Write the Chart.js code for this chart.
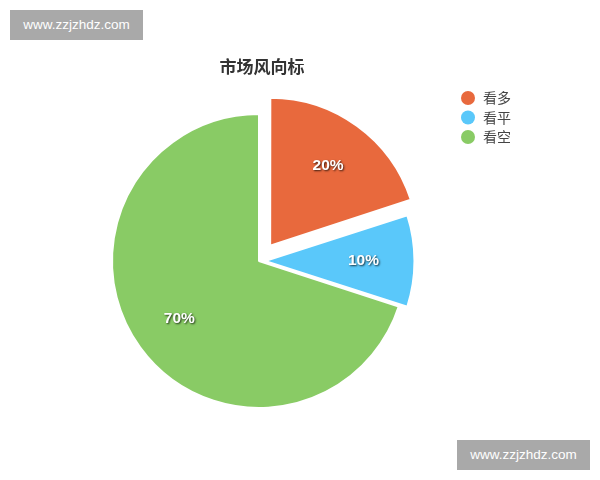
<!DOCTYPE html>
<html>
<head>
<meta charset="utf-8">
<script src="https://cdn.jsdelivr.net/npm/chart.js@4"></script>
<style>
  html, body { margin: 0; padding: 0; background: #fff; }
  #wrap { position: relative; width: 600px; height: 480px; }
  .mark {
    position: absolute; width: 133px; height: 30px;
    background: #a9a9a9; color: #fff; text-align: center;
    font: 13.5px "Liberation Sans", Arial, sans-serif;
    line-height: 30px;
  }
</style>
</head>
<body>
<div id="wrap">
  <canvas id="c" width="600" height="480"></canvas>
  <div class="mark" style="left:10px;top:10px">www.zzjzhdz.com</div>
  <div class="mark" style="left:457px;top:440px">www.zzjzhdz.com</div>
</div>
<script>
// 数据
const labels = ["看多", "看平", "看空"];
const values = [20, 10, 70];
const colors = ["#e8693d", "#5ac8fa", "#89cb65"];
const offsets = [19, 6, 0];   // 扇区外移像素
const title = "市场风向标";

// 标题、图例和百分比文字
const decor = {
  id: "decor",
  afterDatasetsDraw(chart) {
    const ctx = chart.ctx;
    const meta = chart.getDatasetMeta(0);
    const total = values.reduce((a, b) => a + b, 0);

    ctx.save();
    ctx.textAlign = "center";
    ctx.textBaseline = "middle";
    ctx.font = "bold 15.5px 'Liberation Sans', Arial, sans-serif";
    meta.data.forEach((arc, i) => {
      const mid = (arc.startAngle + arc.endAngle) / 2;
      const r = offsets[i] + arc.outerRadius * 0.67;
      const x = arc.x + Math.cos(mid) * r;
      const y = arc.y + Math.sin(mid) * r;
      ctx.shadowColor = "rgba(0,0,0,0.75)";
      ctx.shadowBlur = 2;
      ctx.shadowOffsetX = 1;
      ctx.shadowOffsetY = 1;
      ctx.fillStyle = "#fff";
      ctx.fillText(Math.round(values[i] / total * 100) + "%", x, y);
    });
    ctx.restore();

    ctx.save();
    ctx.fillStyle = "#333";
    ctx.textAlign = "center";
    ctx.textBaseline = "middle";
    ctx.font = "bold 17px 'Noto Sans CJK SC', sans-serif";
    ctx.fillText(title, 262, 67);

    ctx.textAlign = "left";
    ctx.font = "14px 'Noto Sans CJK SC', sans-serif";
    labels.forEach((lab, i) => {
      const y = 98 + i * 19.5;
      ctx.fillStyle = colors[i];
      ctx.beginPath();
      ctx.arc(468, y, 7, 0, Math.PI * 2);
      ctx.fill();
      ctx.fillStyle = "#444";
      ctx.fillText(lab, 483, y);
    });
    ctx.restore();
  }
};

new Chart(document.getElementById("c"), {
  type: "pie",
  data: {
    labels: labels,
    datasets: [{
      data: values,
      backgroundColor: colors,
      borderColor: "#fff",
      borderWidth: 2,
      // Chart.js v4 会把 offset 除以 4 再平移
      offset: offsets.map(o => o * 4)
    }]
  },
  options: {
    responsive: false,
    animation: false,
    radius: 147,
    layout: { padding: { left: 100, right: 182, top: 101, bottom: 59 } },
    plugins: {
      legend: { display: false },
      title: { display: false },
      tooltip: { enabled: false }
    }
  },
  plugins: [decor]
});
</script>
</body>
</html>
